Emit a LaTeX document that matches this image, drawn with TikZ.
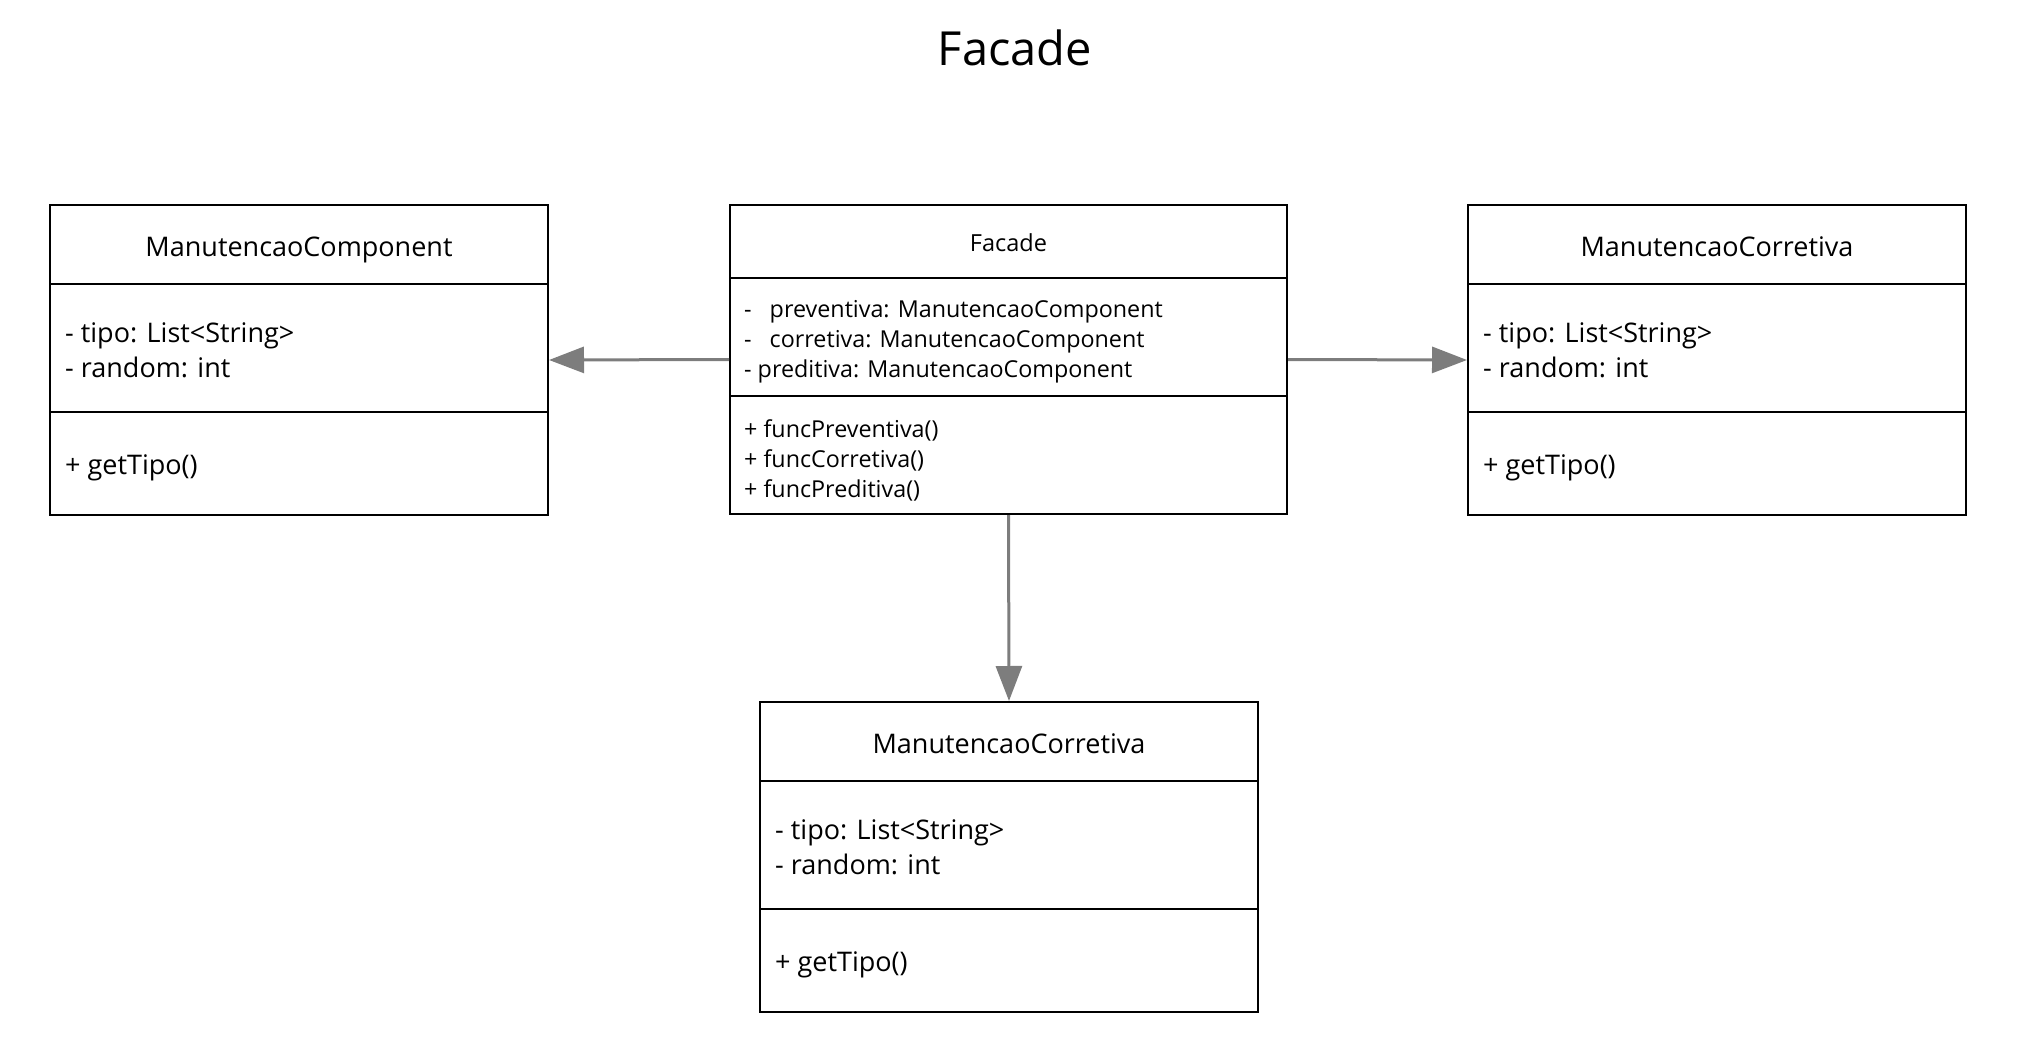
\documentclass[tikz,border=0pt]{standalone}
\usepackage{fontspec}
\setmainfont{Open Sans}
\usepackage{tikz}
\usetikzlibrary{arrows.meta}

\definecolor{linkgray}{RGB}{125,125,125}

\tikzset{
	classbox/.style={draw, rectangle, line width=2pt, inner sep=0pt},
	sidebox/.style={classbox, minimum width=498pt, minimum height=310pt},
	classtitle/.style={anchor=base, inner sep=0pt},
	member/.style={anchor=west, align=left, inner sep=0pt},
	link/.style={draw=linkgray, line width=3pt, -{Triangle[length=35pt, width=26pt]}},
}

\begin{document}
\begin{tikzpicture}[x=1pt, y=-1pt]
	\def \bigfont {\fontsize{27}{35}\selectfont}
	\def \smallfont {\fontsize{23.3}{30}\selectfont}

	\useasboundingbox (0,0) rectangle (2025,1056);

	\node[font=\fontsize{47}{56}\selectfont, anchor=base] (title) at (1015,66) {Facade};

	% facade in the middle
	\node[classbox, minimum width=557pt, minimum height=309pt] (facade) at (1008.5,359.5) {};
	\draw[line width=2pt] ([yshift=-74pt]facade.north west) -- ([yshift=-74pt]facade.north east);
	\draw[line width=2pt] ([yshift=-192pt]facade.north west) -- ([yshift=-192pt]facade.north east);
	\node[classtitle, font=\fontsize{23.5}{28}\selectfont] (facadeTitle) at ([yshift=-48pt]facade.north)
		{Facade};
	\node[member, font=\smallfont] (facadeAttr) at ([xshift=15pt, yshift=-137.5pt]facade.north west)
		{- \hspace{12pt}preventiva: ManutencaoComponent\\
		 - \hspace{12pt}corretiva: ManutencaoComponent\\
		 - preditiva: ManutencaoComponent};
	\node[member, font=\smallfont] (facadeOps) at ([xshift=15pt, yshift=-256pt]facade.north west)
		{+ funcPreventiva()\\+ funcCorretiva()\\+ funcPreditiva()};

	% left
	\node[sidebox] (component) at (299,360) {};
	\draw[line width=2pt] ([yshift=-80pt]component.north west) -- ([yshift=-80pt]component.north east);
	\draw[line width=2pt] ([yshift=-208pt]component.north west) -- ([yshift=-208pt]component.north east);
	\node[classtitle, font=\bigfont] (componentTitle) at ([yshift=-53pt]component.north)
		{ManutencaoComponent};
	\node[member, font=\bigfont] (componentAttr) at ([xshift=16pt, yshift=-146pt]component.north west)
		{- tipo: List<String>\\- random: int};
	\node[member, font=\bigfont] (componentOps) at ([xshift=16pt, yshift=-264pt]component.north west)
		{+ getTipo()};

	% right
	\node[sidebox] (corretiva) at (1717,360) {};
	\draw[line width=2pt] ([yshift=-80pt]corretiva.north west) -- ([yshift=-80pt]corretiva.north east);
	\draw[line width=2pt] ([yshift=-208pt]corretiva.north west) -- ([yshift=-208pt]corretiva.north east);
	\node[classtitle, font=\bigfont] (corretivaTitle) at ([yshift=-53pt]corretiva.north)
		{ManutencaoCorretiva};
	\node[member, font=\bigfont] (corretivaAttr) at ([xshift=16pt, yshift=-146pt]corretiva.north west)
		{- tipo: List<String>\\- random: int};
	\node[member, font=\bigfont] (corretivaOps) at ([xshift=16pt, yshift=-264pt]corretiva.north west)
		{+ getTipo()};

	% bottom
	\node[sidebox] (lower) at (1009,857) {};
	\draw[line width=2pt] ([yshift=-80pt]lower.north west) -- ([yshift=-80pt]lower.north east);
	\draw[line width=2pt] ([yshift=-208pt]lower.north west) -- ([yshift=-208pt]lower.north east);
	\node[classtitle, font=\bigfont] (lowerTitle) at ([yshift=-52pt]lower.north)
		{ManutencaoCorretiva};
	\node[member, font=\bigfont] (lowerAttr) at ([xshift=16pt, yshift=-146pt]lower.north west)
		{- tipo: List<String>\\- random: int};
	\node[member, font=\bigfont] (lowerOps) at ([xshift=16pt, yshift=-264pt]lower.north west)
		{+ getTipo()};

	\draw[link] (facade.west) -- (component.east);
	\draw[link] (facade.east) -- (corretiva.west);
	\draw[link] (facade.south) -- (lower.north);
\end{tikzpicture}
\end{document}
